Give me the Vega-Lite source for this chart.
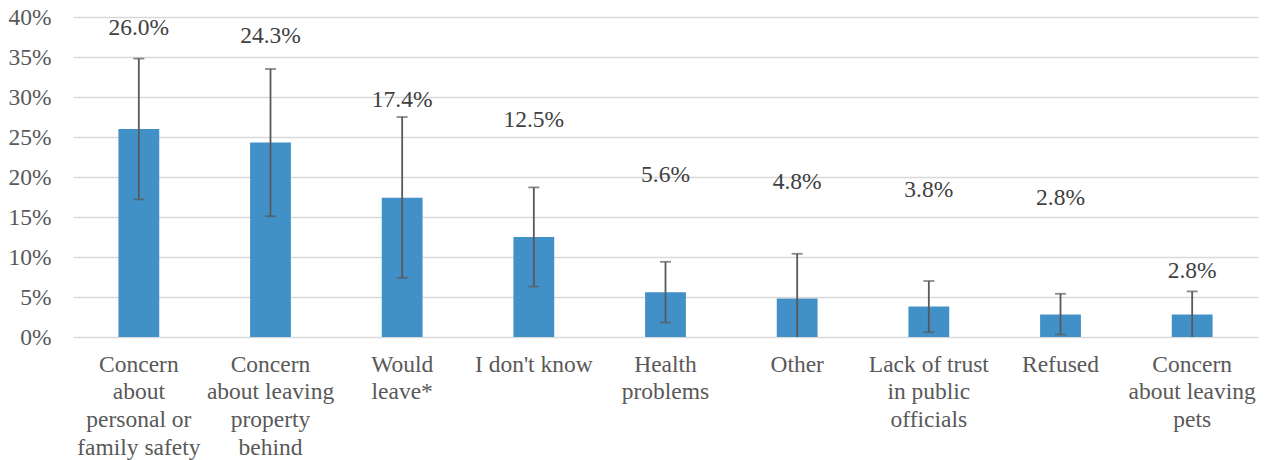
{
  "$schema": "https://vega.github.io/schema/vega-lite/v6.json",
  "width": 1185,
  "height": 320,
  "autosize": {"type": "none"},
  "padding": {"left": 73, "top": 17, "right": 8, "bottom": 123},
  "background": "white",
  "config": {
    "view": {"stroke": null},
    "font": "Liberation Serif",
    "axis": {
      "labelFont": "Liberation Serif",
      "labelFontSize": 23.5,
      "labelColor": "#595959",
      "domain": false,
      "ticks": false,
      "title": null,
      "labelOverlap": false
    },
    "axisY": {
      "grid": true,
      "gridColor": "#d9d9d9",
      "gridWidth": 1.4,
      "labelPadding": 22,
      "tickCount": 8
    }
  },
  "data": {
    "values": [
      {"cat": "Concern about personal or family safety", "value": 0.260, "lo": 0.172, "hi": 0.348, "labelPos": 0.386},
      {"cat": "Concern about leaving property behind", "value": 0.243, "lo": 0.151, "hi": 0.335, "labelPos": 0.376},
      {"cat": "Would leave*", "value": 0.174, "lo": 0.074, "hi": 0.275, "labelPos": 0.296},
      {"cat": "I don't know", "value": 0.125, "lo": 0.063, "hi": 0.187, "labelPos": 0.271},
      {"cat": "Health problems", "value": 0.056, "lo": 0.018, "hi": 0.094, "labelPos": 0.202},
      {"cat": "Other", "value": 0.048, "lo": 0.0, "hi": 0.104, "labelPos": 0.194},
      {"cat": "Lack of trust in public officials", "value": 0.038, "lo": 0.006, "hi": 0.070, "labelPos": 0.184},
      {"cat": "Refused", "value": 0.028, "lo": 0.003, "hi": 0.054, "labelPos": 0.174},
      {"cat": "Concern about leaving pets", "value": 0.028, "lo": 0.0, "hi": 0.057, "labelPos": 0.0825}
    ]
  },
  "encoding": {
    "x": {
      "field": "cat",
      "type": "nominal",
      "sort": null,
      "scale": {"paddingInner": 0.69, "paddingOuter": 0.345},
      "axis": {
        "labelAngle": 0,
        "labelPadding": 15,
        "labelBaseline": "top",
        "labelLineHeight": 27.7,
        "labelLimit": 0,
        "grid": false,
        "labelExpr": "datum.value == 'Concern about personal or family safety' ? ['Concern', 'about', 'personal or', 'family safety'] : datum.value == 'Concern about leaving property behind' ? ['Concern', 'about leaving', 'property', 'behind'] : datum.value == 'Would leave*' ? ['Would', 'leave*'] : datum.value == 'Health problems' ? ['Health', 'problems'] : datum.value == 'Lack of trust in public officials' ? ['Lack of trust', 'in public', 'officials'] : datum.value == 'Concern about leaving pets' ? ['Concern', 'about leaving', 'pets'] : datum.value"
      }
    }
  },
  "layer": [
    {
      "mark": {"type": "bar", "color": "#4191c8"},
      "encoding": {
        "y": {
          "field": "value",
          "type": "quantitative",
          "scale": {"domain": [0, 0.4], "nice": false},
          "axis": {"format": ".0%"}
        }
      }
    },
    {
      "mark": {"type": "rule", "color": "#595959", "strokeWidth": 1.8},
      "encoding": {
        "y": {"field": "lo", "type": "quantitative", "axis": {"format": ".0%"}},
        "y2": {"field": "hi"}
      }
    },
    {
      "mark": {"type": "tick", "color": "#595959", "thickness": 1.8, "size": 11},
      "encoding": {
        "y": {"field": "hi", "type": "quantitative", "axis": {"format": ".0%"}}
      }
    },
    {
      "transform": [{"filter": "datum.lo > 0"}],
      "mark": {"type": "tick", "color": "#595959", "thickness": 1.8, "size": 11},
      "encoding": {
        "y": {"field": "lo", "type": "quantitative", "axis": {"format": ".0%"}}
      }
    },
    {
      "mark": {"type": "text", "font": "Liberation Serif", "fontSize": 23.5, "color": "#404040", "baseline": "middle", "align": "center"},
      "encoding": {
        "y": {"field": "labelPos", "type": "quantitative", "axis": {"format": ".0%"}},
        "text": {"field": "value", "type": "quantitative", "format": ".1%"}
      }
    }
  ]
}
